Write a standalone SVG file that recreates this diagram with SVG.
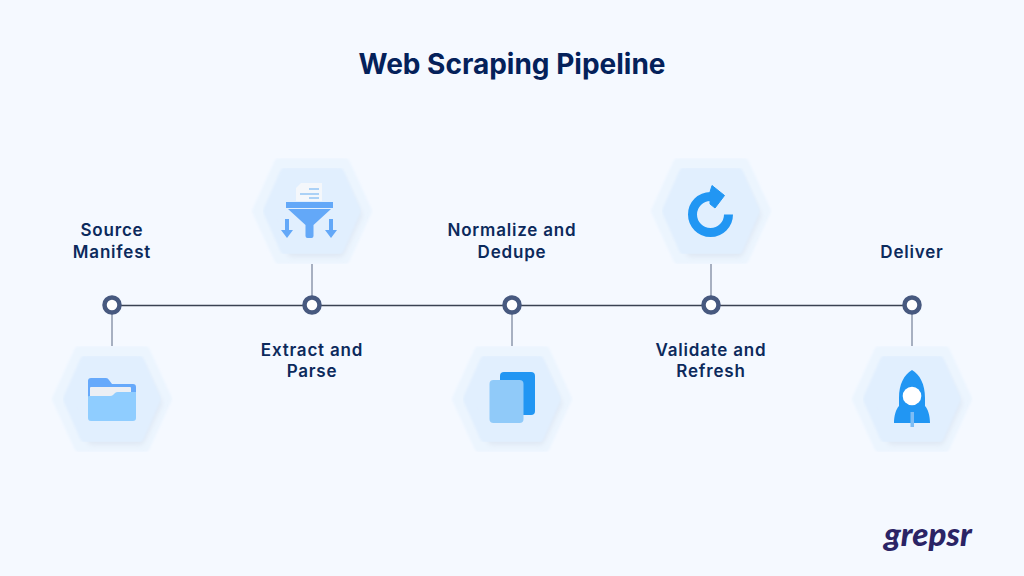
<svg xmlns="http://www.w3.org/2000/svg" width="1024" height="576" viewBox="0 0 1024 576">
<style>
.t{font-family:"Inter","Liberation Sans",sans-serif;fill:#0c2a5c;text-anchor:middle}
.title{font-size:28px;font-weight:700;fill:#04215a}
.lab{font-size:17px;font-weight:600;letter-spacing:.8px}
.dot{fill:#fff;stroke:#47597f;stroke-width:4.5}
.stem{stroke:#8c97ad;stroke-width:1.500;fill:none}
.hexo{fill:#ecf5fe;stroke:#ecf5fe;stroke-width:10;stroke-linejoin:round}
.hexs{fill:#dfe8f4;stroke:#dfe8f4;stroke-width:8;stroke-linejoin:round}
.hexi{fill:#e1effe;stroke:#e1effe;stroke-width:10;stroke-linejoin:round}
</style>
<defs>
<filter id="soft" x="-15%" y="-15%" width="130%" height="130%"><feGaussianBlur stdDeviation="2.500"/></filter>
<filter id="edge" x="-5%" y="-5%" width="110%" height="110%"><feGaussianBlur stdDeviation="1"/></filter>
<g id="hex">
<polygon class="hexo" points="-55,0 -33,-48 33,-48 55,0 33,48 -33,48" filter="url(#edge)"/>
<polygon class="hexs" points="-38,4 -20,-32 28,-32 46,4 28,42 -20,42" filter="url(#soft)"/>
<polygon class="hexi" points="-44,0 -27,-38.500 27,-38.500 44,0 27,38.500 -27,38.500" filter="url(#edge)"/>
</g>
</defs>
<rect width="1024" height="576" fill="#f5f9ff"/>
<text class="t title" x="512" y="74">Web Scraping Pipeline</text>
<g id="connectors">
<line x1="112" y1="305.500" x2="911" y2="305.500" stroke="#3a4252" stroke-width="1.400"/>
<line class="stem" x1="112" y1="312" x2="112" y2="346"/>
<line class="stem" x1="312" y1="264" x2="312" y2="299"/>
<line class="stem" x1="512" y1="312" x2="512" y2="346"/>
<line class="stem" x1="711" y1="264" x2="711" y2="299"/>
<line class="stem" x1="912" y1="312" x2="912" y2="346"/>
</g>
<g id="node-source">
<circle class="dot" cx="112" cy="305" r="7.500"/>
<text class="t lab" x="112" y="236">Source</text>
<text class="t lab" x="112" y="258">Manifest</text>
<use href="#hex" x="112" y="399"/>
<path d="M88 381q0-3 3-3h15q2 0 3 2l3 4h21q3 0 3 3v12H88z" fill="#66a9fb"/>
<path d="M90 388q0-1 1-1h39q1 0 1 1v9H90z" fill="#eceff4"/>
<path d="M88 397q0-1 1-1h21q2 0 3-1l2-2q1-1 3-1h18v26q0 3-3 3H91q-3 0-3-3z" fill="#8fcdff"/>
</g>
<g id="node-extract">
<circle class="dot" cx="312" cy="305" r="7.500"/>
<text class="t lab" x="312" y="356">Extract and</text>
<text class="t lab" x="312" y="377">Parse</text>
<use href="#hex" x="312" y="211"/>
<path d="M301 183h21v18h-26v-13z" fill="#f4f7fb"/>
<path d="M309 189h10M300 194h19M309 198h10" stroke="#93c5f5" stroke-width="1.300" fill="none"/>
<rect x="286" y="202" width="47" height="6" fill="#63a8f8"/>
<path d="M288 209H331L313.500 225V236q0 2-2 2h-4q-2 0-2-2V225z" fill="#63a8f8"/>
<path d="M285 219h4v11h4l-6 8-6-8h4zM329 219h4v11h4l-6 8-6-8h4z" fill="#63a8f8"/>
</g>
<g id="node-normalize">
<circle class="dot" cx="512" cy="305" r="7.500"/>
<text class="t lab" x="512" y="236">Normalize and</text>
<text class="t lab" x="512" y="258">Dedupe</text>
<use href="#hex" x="512" y="399"/>
<rect x="500" y="372" width="35" height="43" rx="4" fill="#2196f3"/>
<rect x="489.500" y="380" width="34" height="43" rx="4" fill="#90caf9"/>
</g>
<g id="node-validate">
<circle class="dot" cx="711" cy="305" r="7.500"/>
<text class="t lab" x="711" y="356">Validate and</text>
<text class="t lab" x="711" y="377">Refresh</text>
<use href="#hex" x="711" y="211"/>
<path d="M728.500 214.500a18 18 0 1 1-18-18" fill="none" stroke="#2196f3" stroke-width="9"/>
<path d="M712 185.500l12.500 10-9.500 12.500-5-4v-12z" fill="#2196f3" stroke="#2196f3" stroke-width="1" stroke-linejoin="round"/>
</g>
<g id="node-deliver">
<circle class="dot" cx="912" cy="305" r="7.500"/>
<text class="t lab" x="912" y="258">Deliver</text>
<use href="#hex" x="912" y="399"/>
<path d="M912 370C920 375 925 384 925 398v8c3 3 5 10 5 17H894c0-7 2-14 5-17v-8C899 384 904 375 912 370z" fill="#2196f3"/>
<circle cx="912" cy="396" r="9.300" fill="#fff"/>
<rect x="910.500" y="412" width="3.500" height="15" fill="#7dbdf5"/>
</g>
<text id="logo" x="884" y="546" font-family="Lato,'Open Sans',sans-serif" font-size="33" font-weight="900" font-style="italic" fill="#2b2465">grepsr</text>
</svg>
